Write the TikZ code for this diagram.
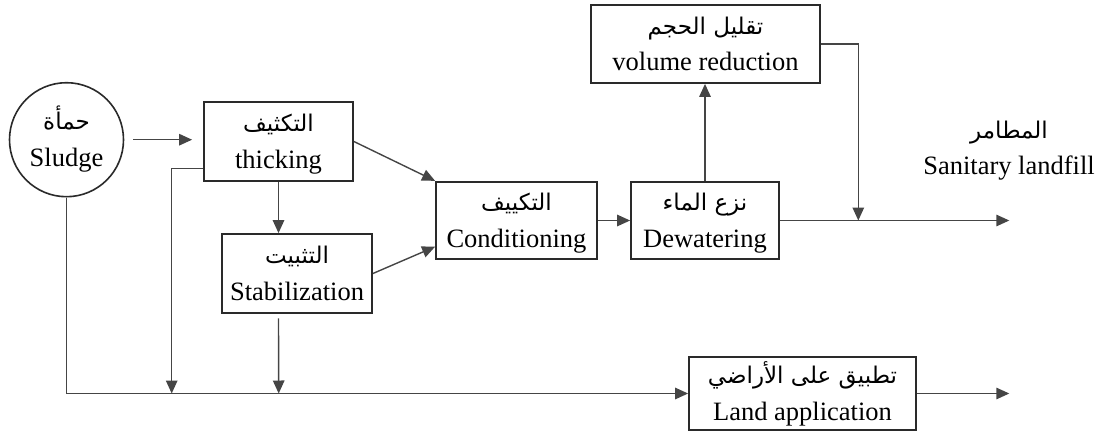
\documentclass[tikz,border=0pt]{standalone}
\usepackage{fontspec}
\setmainfont{Liberation Serif}
\newfontfamily\arfont[Script=Arabic]{DejaVu Sans}
\TeXXeTstate=1
\usetikzlibrary{arrows.meta}

\definecolor{boxcol}{HTML}{2A2A2A}
\definecolor{linecol}{HTML}{454545}

% Arabic line above, English line below, with fixed baselines
\newcommand\twoline[2]{%
  \vbox{\offinterlineskip\halign{\hfil##\hfil\cr
    \rule[-10pt]{0pt}{36.5pt}{\arfont\fontsize{23}{23}\selectfont\beginR #1\endR}\cr
    \rule[-10pt]{0pt}{36.5pt}#2\cr}}}

\begin{document}
\begin{tikzpicture}[x=1pt,y=-1pt,
  font=\fontsize{26.5}{30}\selectfont,
  stage/.style={draw=boxcol, line width=1.8pt, inner sep=0pt},
  source/.style={circle, draw=boxcol, line width=1.6pt, inner sep=0pt, minimum size=114pt},
  conn/.style={draw=linecol, line width=1.4pt, -{Triangle[length=13pt,width=11.5pt]}}]
\useasboundingbox (0,0) rectangle (1102,434);

% stages
\node[source] (sludge) at (66.5,139.7) {\twoline{حمأة}{Sludge}};
\node[stage, minimum width=149pt, minimum height=79pt] (thick) at (278.5,141.5) {\twoline{التكثيف}{thicking}};
\node[stage, minimum width=150pt, minimum height=79pt] (stab) at (297,273.5) {\twoline{التثبيت}{Stabilization}};
\node[stage, minimum width=161pt, minimum height=77.5pt] (cond) at (516.5,220.5) {\twoline{التكييف}{Conditioning}};
\node[stage, minimum width=148pt, minimum height=77.5pt] (dew) at (705,220.5) {\twoline{نزع الماء}{Dewatering}};
\node[stage, minimum width=229pt, minimum height=78pt] (vol) at (705.5,44) {\twoline{تقليل الحجم}{volume reduction}};
\node[stage, minimum width=227pt, minimum height=73pt] (land) at (802.5,393.5) {\twoline{تطبيق على الأراضي}{Land application}};
\node[inner sep=0pt] (fill) at (1009,148) {\twoline{المطامر}{Sanitary landfill}};

% junctions and outlets
\coordinate (j1) at (171.7,393.5);
\coordinate (j2) at (278.7,393.5);
\coordinate (j3) at (858.3,220.5);
\coordinate (out1) at (1009.3,220.5);
\coordinate (out2) at (1009.3,393.5);

% connectors
\draw[conn] ([xshift=9pt]sludge.east) -- ([xshift=-11pt]thick.west |- sludge.east);
\draw[conn] (sludge.south) |- (land.west);
\draw[conn] ([yshift=-27.2pt]thick.west) -| (j1);
\draw[conn] (thick.south) -- (thick.south |- stab.north);
\draw[conn] ([yshift=-4.5pt]stab.south -| thick.south) -- (j2);
\draw[conn] (thick.east) -- (cond.north west);
\draw[conn] (stab.east) -- ([yshift=-26.2pt]cond.west);
\draw[conn] (cond.east) -- (dew.west);
\draw[conn] (dew.north) -- (dew.north |- vol.south);
\draw[conn] (vol.east) -| (j3);
\draw[conn] (dew.east) -- (out1);
\draw[conn] (land.east) -- (out2);
\end{tikzpicture}
\end{document}
